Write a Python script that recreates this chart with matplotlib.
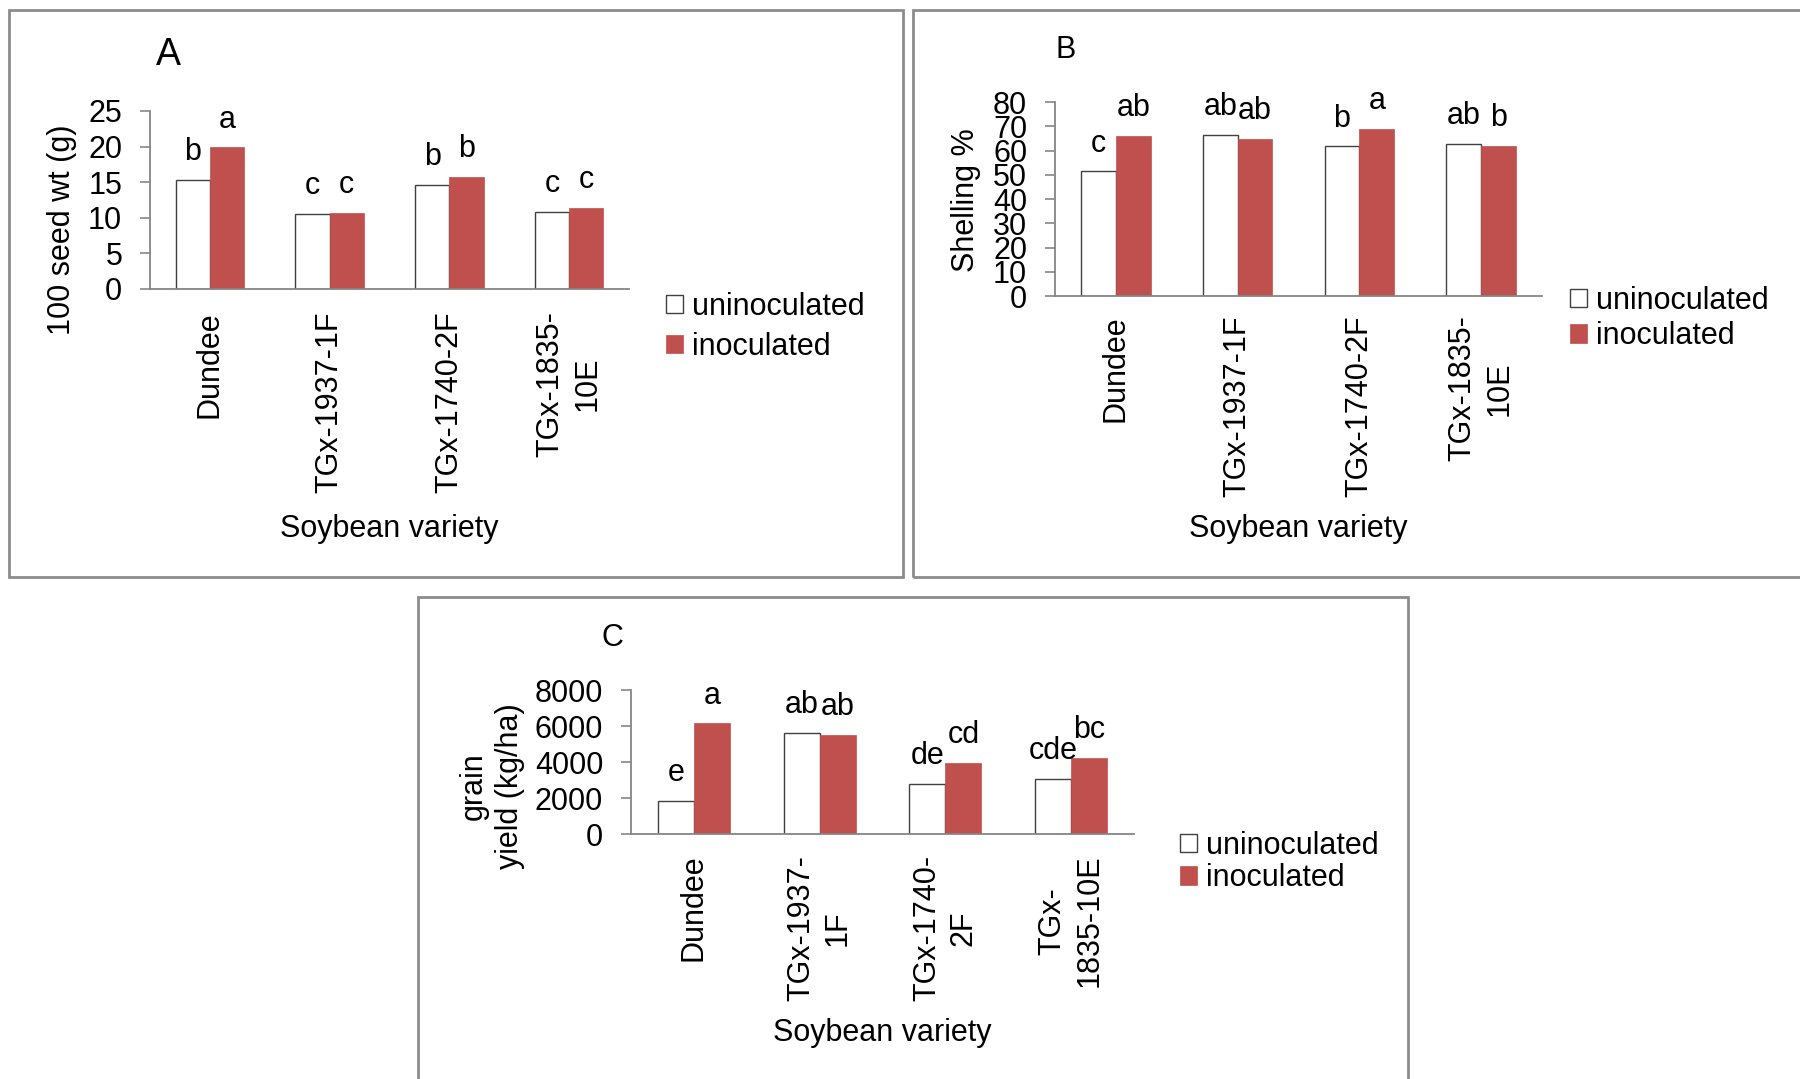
import matplotlib
matplotlib.use('Agg')
import matplotlib.pyplot as plt
from matplotlib.patches import Rectangle
import numpy as np

plt.rcParams['font.family'] = ['Liberation Sans', 'DejaVu Sans']

W, H = 1800, 1079

# data
labels_ab = ['Dundee', 'TGx-1937-1F', 'TGx-1740-2F', 'TGx-1835-\n10E']
labels_c = ['Dundee', 'TGx-1937-\n1F', 'TGx-1740-\n2F', 'TGx-\n1835-10E']

seed_unin = [15.3, 10.6, 14.6, 10.8]
seed_inoc = [19.9, 10.7, 15.7, 11.4]
seed_let_unin = ['b', 'c', 'b', 'c']
seed_let_inoc = ['a', 'c', 'b', 'c']

shell_unin = [51.4, 66.4, 61.7, 62.8]
shell_inoc = [66.0, 64.9, 69.0, 61.9]
shell_let_unin = ['c', 'ab', 'b', 'ab']
shell_let_inoc = ['ab', 'ab', 'a', 'b']

yield_unin = [1840, 5620, 2780, 3060]
yield_inoc = [6140, 5510, 3940, 4230]
yield_let_unin = ['e', 'ab', 'de', 'cde']
yield_let_inoc = ['a', 'ab', 'cd', 'bc']

RED = '#C0504D'
GRAY = '#868686'
FS = 22


def px(x, y):
    # pixel coords (top-left origin) -> figure fraction
    return x / W, 1 - y / H


def axes_at(fig, left, top, right, bottom):
    return fig.add_axes([left / W, 1 - bottom / H, (right - left) / W, (bottom - top) / H])


def draw_panel(ax, labels, unin, inoc, let_u, let_i, ymax, ystep, tickpad):
    x = np.arange(len(labels))
    w = 1 / 3.5
    ax.bar(x - w / 2, unin, w, color='white', edgecolor='#404040', linewidth=1.0,
           label='uninoculated')
    ax.bar(x + w / 2, inoc, w, color=RED, edgecolor=RED, linewidth=0.5,
           label='inoculated')
    for xi, v, t in zip(x - w / 2, unin, let_u):
        ax.annotate(t, (xi, v), xytext=(0, 20), textcoords='offset points',
                    ha='center', va='center', fontsize=FS)
    for xi, v, t in zip(x + w / 2, inoc, let_i):
        ax.annotate(t, (xi, v), xytext=(0, 20), textcoords='offset points',
                    ha='center', va='center', fontsize=FS)
    ax.set_xlim(-0.5, len(labels) - 0.5)
    ax.set_ylim(0, ymax)
    ax.set_yticks(np.arange(0, ymax + 1, ystep))
    ax.set_xticks(x)
    ax.set_xticklabels(labels, rotation=90, fontsize=FS, multialignment='center',
                       linespacing=1.3)
    ax.tick_params(axis='y', labelsize=FS, length=7, width=1.2, color=GRAY, pad=13)
    ax.tick_params(axis='x', length=0, pad=tickpad)
    for s in ['top', 'right']:
        ax.spines[s].set_visible(False)
    for s in ['left', 'bottom']:
        ax.spines[s].set_color(GRAY)
        ax.spines[s].set_linewidth(1.3)
    ax.set_facecolor('none')


def add_legend(ax, x, y, spacing):
    ax.legend(loc='upper left', bbox_to_anchor=px(x, y), bbox_transform=ax.figure.transFigure,
              frameon=False, fontsize=FS, borderpad=0, borderaxespad=0, handlelength=0.55,
              handleheight=0.55, handletextpad=0.3, labelspacing=spacing)


fig = plt.figure(figsize=(18, 10.79), dpi=100)

# panel frames
for (l, t, r, b) in [(9, 10, 903, 577), (913, 10, 1805, 577), (418, 597, 1408, 1085)]:
    fig.patches.append(Rectangle(px(l, b), (r - l) / W, (b - t) / H, transform=fig.transFigure,
                                 fill=False, edgecolor='#8c8c8c', linewidth=2))

# Panel A
axA = axes_at(fig, 150, 111, 629, 289)
draw_panel(axA, labels_ab, seed_unin, seed_inoc, seed_let_unin, seed_let_inoc, 25, 5, 16)
fig.text(*px(168, 55), 'A', fontsize=27, ha='center', va='center')
fig.text(*px(62, 230), '100 seed wt (g)', fontsize=FS, rotation=90, ha='center', va='center')
fig.text(*px(389, 529), 'Soybean variety', fontsize=FS, ha='center', va='center')
add_legend(axA, 666, 292, 0.33)

# Panel B
axB = axes_at(fig, 1055, 102, 1542, 296)
draw_panel(axB, labels_ab, shell_unin, shell_inoc, shell_let_unin, shell_let_inoc, 80, 10, 14)
fig.text(*px(1066, 50), 'B', fontsize=FS, ha='center', va='center')
fig.text(*px(966, 200), 'Shelling %', fontsize=FS, rotation=90, ha='center', va='center')
fig.text(*px(1298, 529), 'Soybean variety', fontsize=FS, ha='center', va='center')
add_legend(axB, 1570, 286, 0.17)

# Panel C
axC = axes_at(fig, 631, 690, 1134, 834)
draw_panel(axC, labels_c, yield_unin, yield_inoc, yield_let_unin, yield_let_inoc, 8000, 2000, 15)
fig.text(*px(612, 638), 'C', fontsize=FS, ha='center', va='center')
fig.text(*px(492, 786), 'grain\nyield (kg/ha)', fontsize=FS, rotation=90, ha='center',
         va='center', multialignment='center', linespacing=1.3)
fig.text(*px(882, 1033), 'Soybean variety', fontsize=FS, ha='center', va='center')
add_legend(axC, 1180, 831, 0.07)

fig.savefig('out.png', dpi=100, facecolor='white')
